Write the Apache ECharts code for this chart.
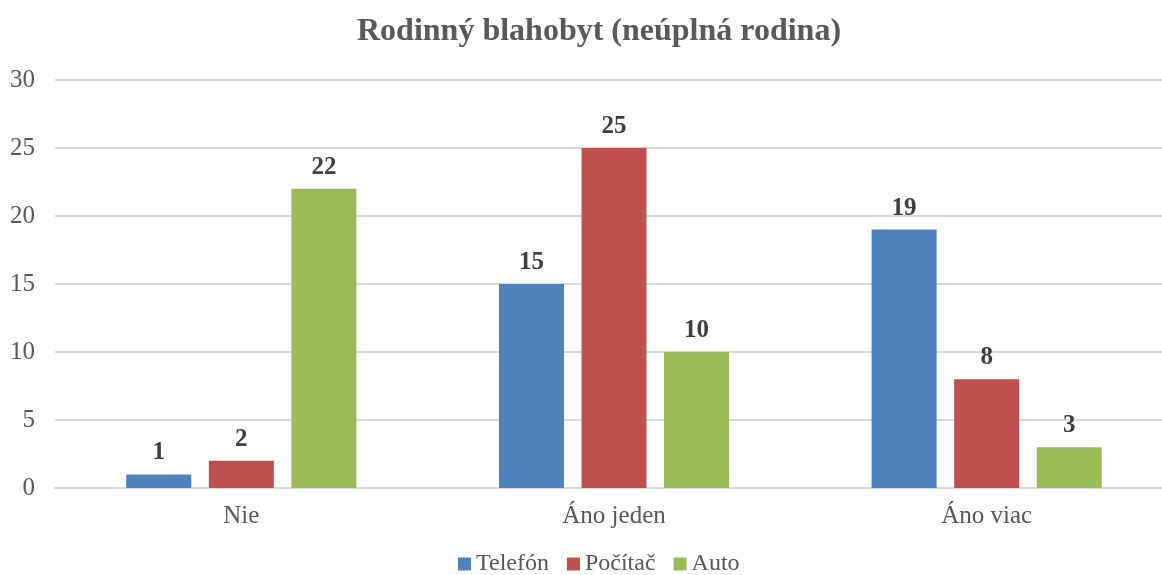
<!DOCTYPE html>
<html>
<head>
<meta charset="utf-8">
<script src="https://cdn.jsdelivr.net/npm/echarts@6/dist/echarts.min.js"></script>
<style>
  html, body { margin: 0; padding: 0; background: #fff; }
  #chart { width: 1162px; height: 575px; }
</style>
</head>
<body>
<div id="chart"></div>
<script>
// data
const categories = ['Nie', 'Áno jeden', 'Áno viac'];
const telefon = [1, 15, 19];
const pocitac = [2, 25, 8];
const auto = [22, 10, 3];
const seriesNames = ['Telefón', 'Počítač', 'Auto'];
const colors = ['#4F81BD', '#C0504D', '#9BBB59'];

const chart = echarts.init(document.getElementById('chart'));
const font = '"Liberation Serif", "Times New Roman", serif';

const labelStyle = {
  show: true,
  position: 'top',
  distance: 9,
  fontFamily: font,
  fontSize: 25,
  fontWeight: 'bold',
  color: '#404040'
};

const makeSeries = (name, data, color) => ({
  name: name,
  type: 'bar',
  data: data,
  barWidth: 65,
  barGap: '27%',
  itemStyle: { color: color },
  label: labelStyle
});

chart.setOption({
  animation: false,
  title: {
    text: 'Rodinný blahobyt (neúplná rodina)',
    left: 352,
    top: 11,
    textStyle: { fontFamily: font, fontSize: 32, fontWeight: 'bold', color: '#595959' }
  },
  legend: {
    bottom: -6,
    left: 453,
    icon: 'rect',
    itemWidth: 13,
    itemHeight: 13,
    itemGap: 18,
    textStyle: { fontFamily: font, fontSize: 24, color: '#595959' },
    data: seriesNames
  },
  grid: { left: 55, right: -11, top: 80, bottom: 87, outerBoundsMode: 'none' },
  xAxis: {
    type: 'category',
    data: categories,
    axisLine: { lineStyle: { color: '#D9D9D9', width: 2 } },
    axisTick: { show: false },
    axisLabel: { fontFamily: font, fontSize: 25, color: '#595959', margin: 16 }
  },
  yAxis: {
    type: 'value',
    min: 0,
    max: 30,
    interval: 5,
    axisLine: { show: false },
    axisTick: { show: false },
    splitLine: { lineStyle: { color: '#D9D9D9', width: 2 } },
    axisLabel: { fontFamily: font, fontSize: 25, color: '#595959', margin: 20 }
  },
  series: [
    makeSeries(seriesNames[0], telefon, colors[0]),
    makeSeries(seriesNames[1], pocitac, colors[1]),
    makeSeries(seriesNames[2], auto, colors[2])
  ]
});
</script>
</body>
</html>
